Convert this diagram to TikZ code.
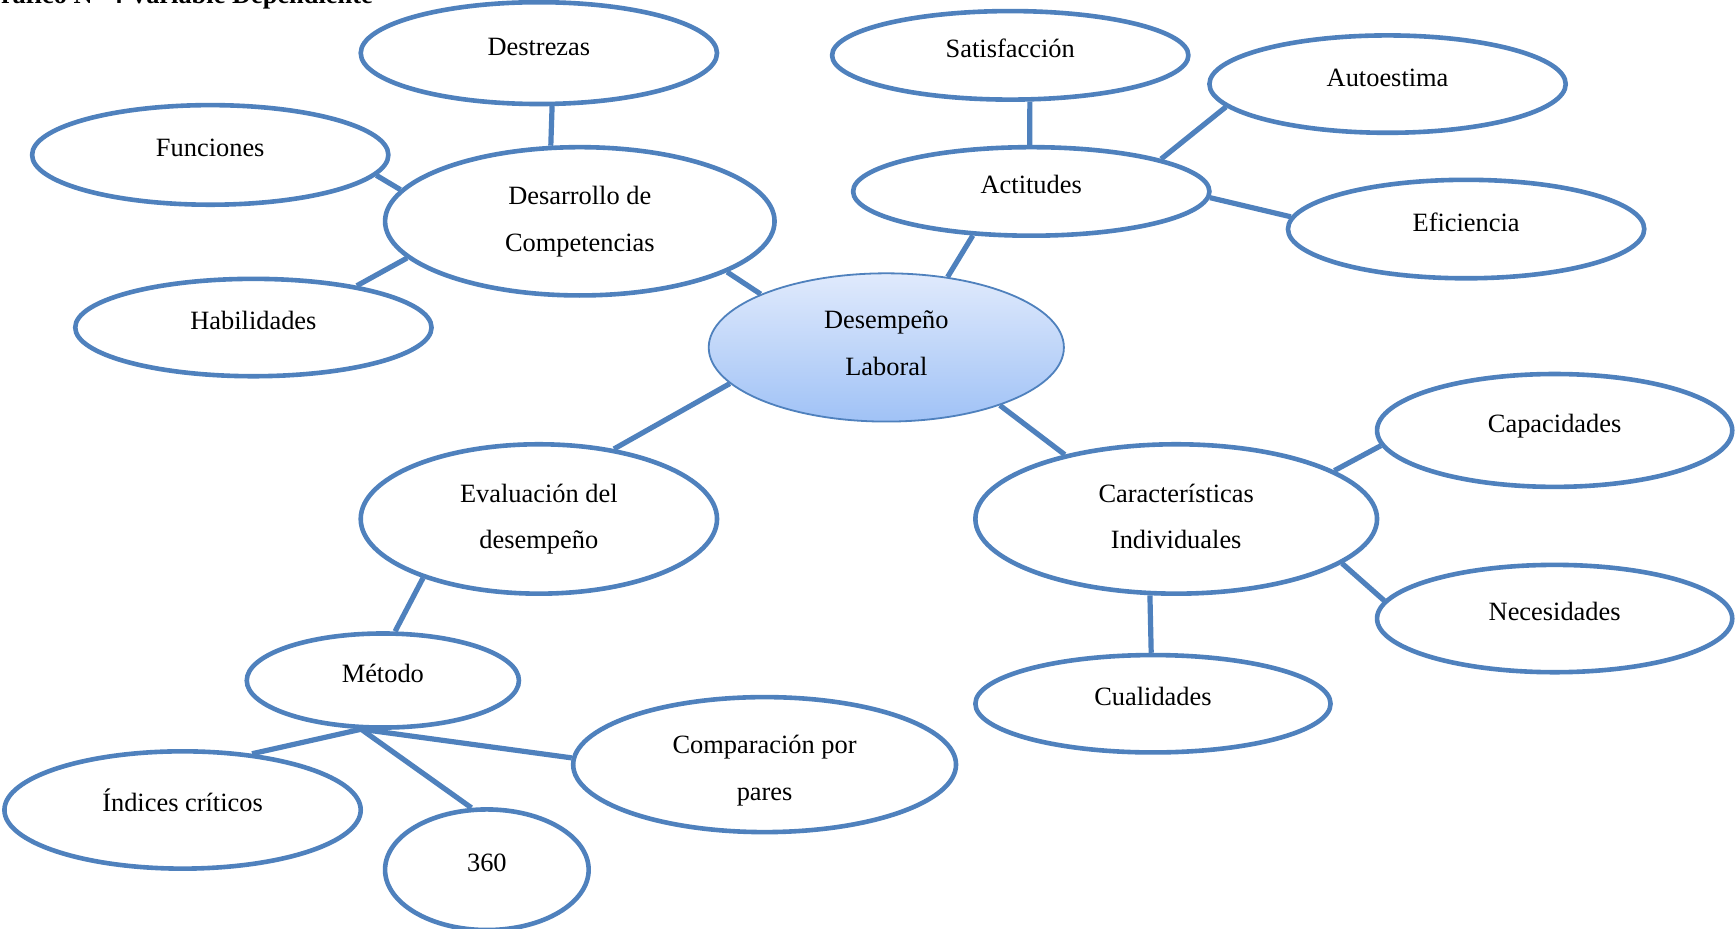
\documentclass[tikz,border=0pt]{standalone}
\usepackage{fontspec}
\setmainfont{Liberation Serif}
\usetikzlibrary{shapes.geometric}
\definecolor{acc}{RGB}{79,129,189}
\definecolor{ctop}{RGB}{224,234,252}
\definecolor{cbot}{RGB}{160,194,246}
\begin{document}
\begin{tikzpicture}[x=0.55325pt,y=-0.55325pt,
  base/.style={ellipse, inner sep=0pt, align=center,
    font=\fontsize{13.2}{23.2}\selectfont},
  bub/.style 2 args={base, draw=acc, line width=2.3pt, fill=white,
    minimum width=#1*0.55325pt, minimum height=#2*0.55325pt},
  one/.style={text height=9pt, text depth=7pt},
  two/.style={text height=32pt, text depth=2pt},
  link/.style={draw=acc, line width=2.6pt}]
\clip (0,0) rectangle (1568,839);
\fill[white] (0,0) rectangle (1568,839);

\node[anchor=base west, inner sep=0pt, font=\bfseries\fontsize{13.2}{15}\selectfont] (head) at (-18,3.6) {Gráfico N° 4 Variable Dependiente};

% nodes
\node[bub={322}{92}, one] (destr) at (487,48) {Destrezas};
\node[bub={322}{90}, one] (func) at (190,140) {Funciones};
\node[bub={352}{134}, two] (desa) at (524,200) {Desarrollo de\\Competencias};
\node[bub={322}{88}, one] (habi) at (229,296) {Habilidades};
\node[bub={322}{80}, one] (sati) at (913,50) {Satisfacción};
\node[bub={322}{88}, one] (auto) at (1254,76) {Autoestima};
\node[bub={322}{80}, one] (acti) at (932,173) {Actitudes};
\node[bub={322}{89}, one] (efic) at (1325,207) {Eficiencia};
\node[base, draw=acc, line width=0.9pt, top color=ctop, bottom color=cbot,
  minimum width=321*0.55325pt, minimum height=134*0.55325pt,
  text height=30pt, text depth=2.4pt] (dese) at (801,314) {Desempeño\\Laboral};
\node[bub={322}{135}, two] (eval) at (487,469) {Evaluación del\\desempeño};
\node[bub={363}{135}, two] (cara) at (1063,469) {Características\\Individuales};
\node[bub={321}{102}, one] (capa) at (1405,389) {Capacidades};
\node[bub={321}{97}, one] (nece) at (1405,559) {Necesidades};
\node[bub={321}{88}, one] (cual) at (1042,636) {Cualidades};
\node[bub={246}{85}, one] (meto) at (346,615) {Método};
\node[bub={346}{122}, text height=37.5pt, text depth=2pt] (comp) at (691,691) {Comparación por\\pares};
\node[bub={322}{106}, one] (indi) at (165,732) {Índices críticos};
\node[bub={184}{109}, one] (tres) at (440,786) {360};

% connectors
\draw[link] (destr.-76.8) -- (desa.111.2);
\draw[link] (func.-7.6) -- (desa.170.8);
\draw[link] (habi.22) -- (desa.192.6);
\draw[link] (desa.-19.2) -- (dese.157.8);
\draw[link] (sati.-67) -- (acti.92.9);
\draw[link] (auto.188.9) -- (acti.14.3);
\draw[link] (acti.-2.5) -- (efic.176.7);
\draw[link] (acti.217.6) -- (dese.49.8);
\draw[link] (dese.193.2) -- (eval.43.2);
\draw[link] (dese.-27) -- (cara.150.8);
\draw[link] (cara.17.1) -- (capa.185.2);
\draw[link] (cara.-15.1) -- (nece.174.5);
\draw[link] (cara.251.3) -- (cual.92.7);
\draw[link] (eval.207.7) -- (meto.76);
\draw[link] (meto.246) -- (indi.39.7);
\draw[link] (meto.246) -- (tres.104.9);
\draw[link] (meto.246) -- (comp.178.3);
\end{tikzpicture}
\end{document}
